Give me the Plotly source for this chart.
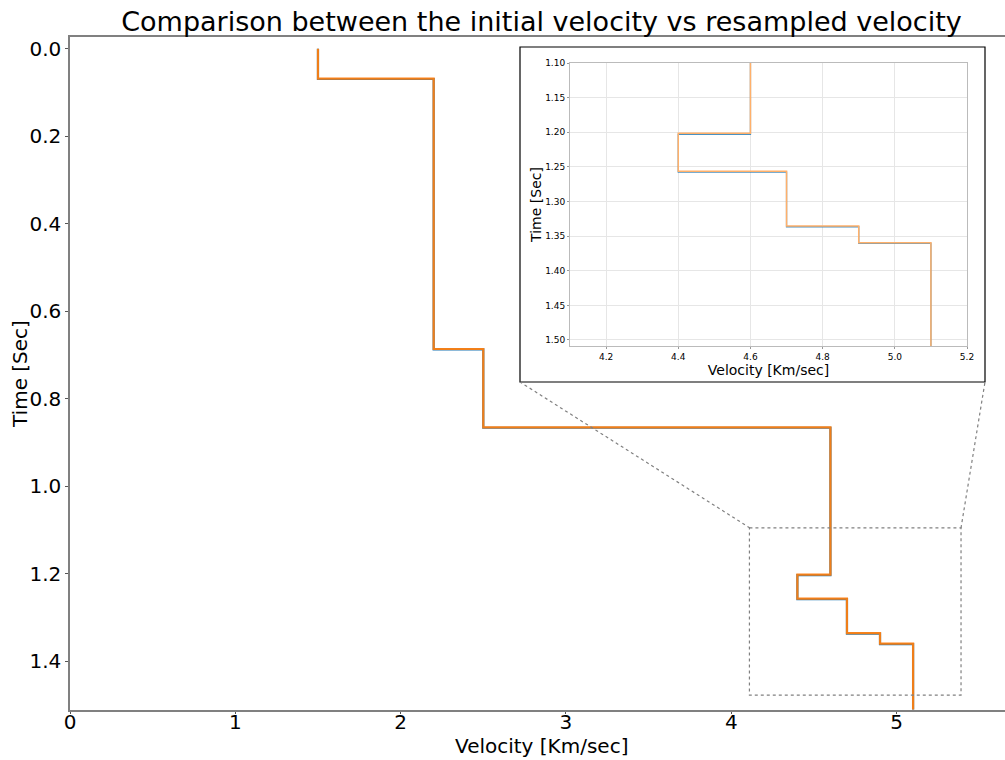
import plotly.graph_objects as go

# Initial velocity model (layer tops in seconds, velocity in Km/sec)
init_time = [0.0, 0.068, 0.686, 0.865, 1.2015, 1.2565, 1.3355, 1.3595, 1.51]
init_vel = [1.5, 2.2, 2.5, 4.6, 4.4, 4.7, 4.9, 5.1, 5.1]

# Resampled velocity model
res_time = [0.0, 0.069, 0.687, 0.866, 1.203, 1.2575, 1.3365, 1.3605, 1.51]
res_vel = [1.5, 2.2, 2.5, 4.6, 4.4, 4.7, 4.9, 5.1, 5.1]

x_ticks = [0, 1, 2, 3, 4, 5]
y_ticks = [0.0, 0.2, 0.4, 0.6, 0.8, 1.0, 1.2, 1.4]
ix_ticks = [4.2, 4.4, 4.6, 4.8, 5.0, 5.2]
iy_ticks = [1.10, 1.15, 1.20, 1.25, 1.30, 1.35, 1.40, 1.45, 1.50]

BLUE = "#1f77b4"
ORANGE = "#ff7f0e"
ORANGE_LIGHT = "#ffb06a"
FONT = "DejaVu Sans"

fig = go.Figure()

# main plot
fig.add_trace(go.Scatter(x=res_vel, y=res_time, mode="lines", line=dict(color=BLUE, width=2.2, shape="vh"),
                         xaxis="x", yaxis="y", showlegend=False))
fig.add_trace(go.Scatter(x=init_vel, y=init_time, mode="lines", line=dict(color=ORANGE, width=2.2, shape="vh"),
                         opacity=0.93, xaxis="x", yaxis="y", showlegend=False))
# inset
fig.add_trace(go.Scatter(x=res_vel, y=res_time, mode="lines", line=dict(color=BLUE, width=1.3, shape="vh"),
                         opacity=0.8, xaxis="x2", yaxis="y2", showlegend=False))
fig.add_trace(go.Scatter(x=init_vel, y=init_time, mode="lines", line=dict(color=ORANGE_LIGHT, width=1.5, shape="vh"),
                         xaxis="x2", yaxis="y2", showlegend=False))

L, R, T, B = 70, 0, 37, 50
W, H = 1005, 760
pw, ph = W - L - R, H - T - B


def px(x):
    return (x - L) / pw


def py(y):
    return (H - B - y) / ph


# inset frame (black box)
fig.add_shape(type="rect", xref="paper", yref="paper", x0=px(520), x1=px(985), y0=py(382), y1=py(47),
              line=dict(color="black", width=1.2), fillcolor="white", layer="below")
# zoom rectangle on main axes
fig.add_shape(type="rect", xref="x", yref="y", x0=4.11, x1=5.39, y0=1.095, y1=1.477,
              line=dict(color="#808080", width=1.2, dash="dot"))
# connector lines
fig.add_shape(type="line", xref="paper", yref="paper", x0=px(750), y0=py(528), x1=px(520), y1=py(382),
              line=dict(color="#808080", width=1.2, dash="dot"))
fig.add_shape(type="line", xref="paper", yref="paper", x0=px(961), y0=py(528), x1=px(985), y1=py(382),
              line=dict(color="#808080", width=1.2, dash="dot"))

# main axis titles
fig.add_annotation(text="Velocity [Km/sec]", xref="paper", yref="paper", x=px(541), y=py(746),
                   xanchor="center", yanchor="middle", showarrow=False, font=dict(size=20, family=FONT))
fig.add_annotation(text="Time [Sec]", xref="paper", yref="paper", x=px(20), y=py(374),
                   xanchor="center", yanchor="middle", textangle=-90, showarrow=False,
                   font=dict(size=20, family=FONT))

fig.update_layout(
    width=W, height=H,
    margin=dict(l=L, r=R, t=T, b=B, autoexpand=False),
    paper_bgcolor="white", plot_bgcolor="white",
    font=dict(family=FONT, color="black"),
    title=dict(text="Comparison between the initial velocity vs resampled velocity",
               x=541.5 / W, xanchor="center", y=1 - 22 / H, yanchor="middle",
               font=dict(size=27, family=FONT, color="black")),
    xaxis=dict(domain=[0, 1], range=[0, 5.656], tickvals=x_ticks, ticks="outside", ticklen=2,
               tickcolor="#555", showline=True, linecolor="#808080", linewidth=1.5, mirror=True,
               showgrid=False, zeroline=False, tickfont=dict(size=20), automargin=False,
               ticklabelstandoff=-9),
    yaxis=dict(domain=[0, 1], range=[1.511, -0.027], tickvals=y_ticks, tickformat=".1f", ticks="outside",
               ticklen=3, tickcolor="#555", showline=True, linecolor="#808080", linewidth=1.5, mirror=True,
               showgrid=False, zeroline=False, tickfont=dict(size=20), automargin=False),
    xaxis2=dict(domain=[px(570), px(967)], anchor="y2", range=[4.1, 5.2], tickvals=ix_ticks,
                tickformat=".1f", ticks="outside", ticklen=2, tickcolor="#999", automargin=False,
                showline=True, linecolor="#bbbbbb", linewidth=1, mirror=True,
                showgrid=True, gridcolor="#e6e6e6", gridwidth=1, zeroline=False, tickfont=dict(size=9),
                title=dict(text="Velocity [Km/sec]", font=dict(size=14), standoff=1)),
    yaxis2=dict(domain=[py(346), py(63)], anchor="x2", range=[1.5087, 1.1], tickvals=iy_ticks,
                tickformat=".2f", ticks="outside", ticklen=2, tickcolor="#999", automargin=False,
                showline=True, linecolor="#bbbbbb", linewidth=1, mirror=True,
                showgrid=True, gridcolor="#e6e6e6", gridwidth=1, zeroline=False, tickfont=dict(size=9),
                title=dict(text="Time [Sec]", font=dict(size=14), standoff=0)),
)

fig.write_html("out.html", post_script="document.body.style.margin='0';document.body.style.overflow='hidden';")
